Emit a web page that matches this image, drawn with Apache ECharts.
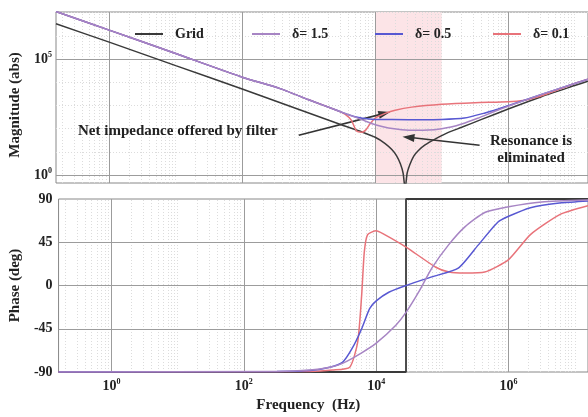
<!DOCTYPE html>
<html>
<head>
<meta charset="utf-8">
<script src="https://cdn.jsdelivr.net/npm/echarts@6/dist/echarts.min.js"></script>
<style>
html, body { margin: 0; padding: 0; background: #fff; }
#chart { width: 588px; height: 417px; }
</style>
</head>
<body>
<div id="chart"></div>
<script>
// Frequencies are stored as log10(Hz); magnitudes as log10(|Z|).
const seriesNames = ['Grid', 'δ= 1.5', 'δ= 0.5', 'δ= 0.1'];

// Magnitude: grid impedance with its sharp resonance
const gridMagF = [-0.8, 0, 1, 2, 3, 3.5, 3.8, 4.0, 4.15, 4.25, 4.32, 4.38, 4.42, 4.45, 4.48, 4.52, 4.58, 4.65, 4.75, 4.9, 5.1, 5.3, 5.6, 6.0, 6.5, 7.0, 7.2];
const gridMagV = [6.52, 5.73, 4.72, 3.71, 2.68, 2.16, 1.86, 1.63, 1.36, 1.1, 0.84, 0.48, 0.08, -0.6, 0.08, 0.45, 0.82, 1.06, 1.3, 1.55, 1.84, 2.06, 2.4, 2.85, 3.38, 3.86, 4.05];

// Magnitude: net impedance with the filter, δ = 1.5
const d15MagF = [-0.8, 0, 1, 2, 2.55, 3, 3.45, 3.7, 3.85, 4.0, 4.2, 4.4, 4.6, 4.8, 5.0, 5.14, 5.3, 5.54, 5.8, 6.03, 6.5, 7.0, 7.2];
const d15MagV = [7.05, 6.25, 5.24, 4.22, 3.75, 3.25, 2.76, 2.5, 2.33, 2.17, 2.03, 1.96, 1.93, 1.94, 2.0, 2.07, 2.2, 2.45, 2.75, 3.0, 3.48, 3.95, 4.13];

// Magnitude: δ = 0.5
const d05MagF = [-0.8, 0, 1, 2, 2.55, 3, 3.45, 3.6, 3.75, 3.9, 4.0, 4.5, 5.0, 5.34, 5.64, 5.85, 6.03, 6.5, 7.0, 7.2];
const d05MagV = [7.05, 6.25, 5.24, 4.22, 3.75, 3.25, 2.76, 2.6, 2.48, 2.42, 2.4, 2.39, 2.4, 2.46, 2.67, 2.85, 3.02, 3.48, 3.95, 4.13];

// Magnitude: δ = 0.1
const d01MagF = [-0.8, 0, 1, 2, 2.55, 3, 3.45, 3.55, 3.64, 3.72, 3.8, 3.86, 3.92, 4.0, 4.15, 4.3, 4.55, 5.0, 5.5, 6.0, 6.25, 6.4, 6.6, 7.0, 7.2];
const d01MagV = [7.05, 6.25, 5.24, 4.22, 3.75, 3.25, 2.76, 2.62, 2.37, 1.9, 1.85, 1.95, 2.2, 2.46, 2.66, 2.8, 2.93, 3.05, 3.12, 3.16, 3.23, 3.33, 3.52, 3.95, 4.13];

// Phase (deg)
const gridPhaseF = [-0.8, 4.45, 4.45, 7.2];
const gridPhaseV = [-90, -90, 90, 90];

const d15PhaseF = [-0.8, 2.5, 3.0, 3.3, 3.49, 3.78, 4.0, 4.3, 4.45, 4.64, 4.84, 5.09, 5.34, 5.64, 6.0, 6.5, 7.2];
const d15PhaseV = [-90, -89.5, -88, -85, -81, -70, -60, -41, -28, -7, 18, 42, 61, 76, 82, 87, 89];

const d05PhaseF = [-0.8, 2.5, 3.0, 3.3, 3.49, 3.64, 3.78, 3.9, 4.0, 4.19, 4.45, 4.84, 5.24, 5.54, 5.84, 6.0, 6.33, 6.8, 7.2];
const d05PhaseV = [-90, -89.5, -88.5, -85, -80, -65, -45, -24, -16, -7, 0, 9, 18, 42, 66, 72, 81, 86, 88];

const d01PhaseF = [-0.8, 3.0, 3.34, 3.6, 3.72, 3.78, 3.82, 3.87, 4.0, 4.1, 4.45, 4.9, 5.1, 5.34, 5.64, 6.0, 6.33, 6.78, 7.2];
const d01PhaseV = [-90, -89.5, -88, -85, -59, -10, 35, 53, 57, 54, 40, 19, 14, 13, 14, 27, 53, 74, 83];

// Axis tick labels (decade exponents / degrees)
const freqTickExp = [0, 2, 4, 6];
const magTickExp = [0, 5];
const phaseTicks = [-90, -45, 0, 45, 90];

// Shaded band (log10 Hz)
const bandRange = [4, 5];

const FONT = 'Liberation Serif';
const colors = ['#3a3a3a', '#a785c4', '#5858d2', '#e8737a'];

const pair = (fs, vs) => fs.map((f, i) => [f, vs[i]]);

// grid lines: majors every two decades, dotted minors at k·10^n
const xMajor = freqTickExp.slice();
const xMinor = [];
for (let n = -1; n <= 7; n++) {
  if (n % 2 !== 0 && n >= 0) xMinor.push(n);
  for (let k = 2; k <= 9; k++) {
    const v = n + Math.log10(k);
    if (v > -0.8 && v < 7.2) xMinor.push(v);
  }
}
const yMagMinor = [1, 2, 3, 4, 6, 7];

const majorStyle = { color: '#9c9c9c', width: 1, type: 'solid' };
const minorStyle = { color: '#dcdcdc', width: 1, type: [1, 2] };

function gridLines(xIdx, yIdx, horizMajor, horizMinor) {
  const data = [];
  xMinor.forEach(v => data.push({ xAxis: v, lineStyle: minorStyle }));
  horizMinor.forEach(v => data.push({ yAxis: v, lineStyle: minorStyle }));
  xMajor.forEach(v => data.push({ xAxis: v, lineStyle: majorStyle }));
  horizMajor.forEach(v => data.push({ yAxis: v, lineStyle: majorStyle }));
  return {
    type: 'line', xAxisIndex: xIdx, yAxisIndex: yIdx, data: [], silent: true, z: 1,
    markLine: { silent: true, symbol: ['none', 'none'], label: { show: false }, animation: false, data: data }
  };
}

const expLabel = {
  formatter: v => '{b|10}{s|' + v + '}',
  rich: {
    b: { fontFamily: FONT, fontWeight: 'bold', fontSize: 14, color: '#222' },
    s: { fontFamily: FONT, fontWeight: 'bold', fontSize: 8, color: '#222', verticalAlign: 'top', padding: [0, 0, 8, 0] }
  }
};

function curve(name, idx, xi, data, z) {
  return {
    name: name, type: 'line', xAxisIndex: xi, yAxisIndex: xi,
    data: data, showSymbol: false, symbol: 'none', smooth: 0.2,
    lineStyle: { color: colors[idx], width: 1.5, type: 'solid' }, itemStyle: { color: colors[idx] },
    z: z, silent: true
  };
}

// one legend entry per position so each sample sits where it belongs
const legendPos = [130, 247, 370, 488];
const legends = seriesNames.map((n, i) => ({
  data: [{ name: n, icon: 'rect', itemStyle: { color: colors[i], borderWidth: 0, decal: 'none', opacity: 1 } }],
  left: legendPos[i], top: 22, itemWidth: 28, itemHeight: 2, z: 20,
  selectedMode: false,
  textStyle: { fontFamily: FONT, fontWeight: 'bold', fontSize: 14, color: '#222', padding: [0, 0, 0, 7] }
}));

const option = {
  animation: false,
  backgroundColor: '#fff',
  legend: legends,
  grid: [
    { left: 56, right: -4, top: 12, height: 171, show: true, borderColor: '#888', borderWidth: 1, backgroundColor: 'transparent' },
    { left: 56, right: -4, top: 199, height: 173, show: true, borderColor: '#888', borderWidth: 1, backgroundColor: 'transparent' }
  ],
  xAxis: [
    { type: 'value', gridIndex: 0, min: -0.8, max: 7.2, axisLine: { show: false }, axisTick: { show: false },
      axisLabel: { show: false }, splitLine: { show: false } },
    { type: 'value', gridIndex: 1, min: -0.8, max: 7.2, axisLine: { show: false }, axisTick: { show: false },
      axisLabel: Object.assign({ customValues: freqTickExp, margin: 6 }, expLabel),
      splitLine: { show: false },
      name: 'Frequency  (Hz)', nameLocation: 'middle', nameGap: 26,
      nameTextStyle: { fontFamily: FONT, fontWeight: 'bold', fontSize: 15, color: '#222', padding: [0, 30, 0, 0] } }
  ],
  yAxis: [
    { type: 'value', gridIndex: 0, min: -0.34, max: 7.03, axisLine: { show: false }, axisTick: { show: false },
      axisLabel: Object.assign({ customValues: magTickExp, margin: 4 }, expLabel),
      splitLine: { show: false },
      name: 'Magnitude (abs)', nameLocation: 'middle', nameGap: 33,
      nameTextStyle: { fontFamily: FONT, fontWeight: 'bold', fontSize: 15, color: '#222', padding: [0, 15, 0, 0] } },
    { type: 'value', gridIndex: 1, min: -90, max: 90, interval: 45, axisLine: { show: false }, axisTick: { show: false },
      axisLabel: { customValues: phaseTicks, margin: 6, fontFamily: FONT, fontWeight: 'bold', fontSize: 14, color: '#222' },
      splitLine: { show: false },
      name: 'Phase (deg)', nameLocation: 'middle', nameGap: 33,
      nameTextStyle: { fontFamily: FONT, fontWeight: 'bold', fontSize: 15, color: '#222' } }
  ],
  series: [
    // shaded frequency band in the magnitude panel
    { type: 'line', xAxisIndex: 0, yAxisIndex: 0, data: [], silent: true, z: 0,
      markArea: { silent: true, itemStyle: { color: '#fce4e7' }, data: [[{ xAxis: bandRange[0] }, { xAxis: bandRange[1] }]] } },
    gridLines(0, 0, magTickExp, yMagMinor),
    gridLines(1, 1, phaseTicks.slice(1, 4), []),

    curve(seriesNames[0], 0, 0, pair(gridMagF, gridMagV), 5),
    curve(seriesNames[3], 3, 0, pair(d01MagF, d01MagV), 6),
    curve(seriesNames[2], 2, 0, pair(d05MagF, d05MagV), 7),
    curve(seriesNames[1], 1, 0, pair(d15MagF, d15MagV), 8),

    Object.assign(curve(seriesNames[0], 0, 1, pair(gridPhaseF, gridPhaseV), 5), { smooth: false, lineStyle: { color: colors[0], width: 1.8 } }),
    curve(seriesNames[3], 3, 1, pair(d01PhaseF, d01PhaseV), 6),
    curve(seriesNames[2], 2, 1, pair(d05PhaseF, d05PhaseV), 7),
    curve(seriesNames[1], 1, 1, pair(d15PhaseF, d15PhaseV), 8),

    // annotation arrows
    { type: 'line', xAxisIndex: 0, yAxisIndex: 0, data: [], silent: true, z: 10,
      markLine: {
        silent: true, animation: false, symbol: ['none', 'triangle'], symbolSize: [8, 12],
        label: { show: false },
        lineStyle: { color: '#333', width: 1.6, type: 'solid' },
        itemStyle: { color: '#111' },
        data: [
          [{ coord: [2.85, 1.72] }, { coord: [4.14, 2.66] }],
          [{ coord: [5.57, 1.29] }, { coord: [4.5, 1.63] }]
        ]
      } }
  ],
  graphic: [
    { type: 'text', left: 78, top: 124, z: 20, silent: true,
      style: { text: 'Net impedance offered by filter', fontFamily: FONT, fontWeight: 'bold', fontSize: 15, fill: '#222' } },
    { type: 'text', x: 531, y: 141, z: 20, silent: true,
      style: { text: 'Resonance is', align: 'center', verticalAlign: 'middle', fontFamily: FONT, fontWeight: 'bold', fontSize: 15, fill: '#222' } },
    { type: 'text', x: 531, y: 158, z: 20, silent: true,
      style: { text: 'eliminated', align: 'center', verticalAlign: 'middle', fontFamily: FONT, fontWeight: 'bold', fontSize: 15, fill: '#222' } }
  ]
};

const chart = echarts.init(document.getElementById('chart'), null, { renderer: 'canvas' });
chart.setOption(option);
</script>
</body>
</html>
